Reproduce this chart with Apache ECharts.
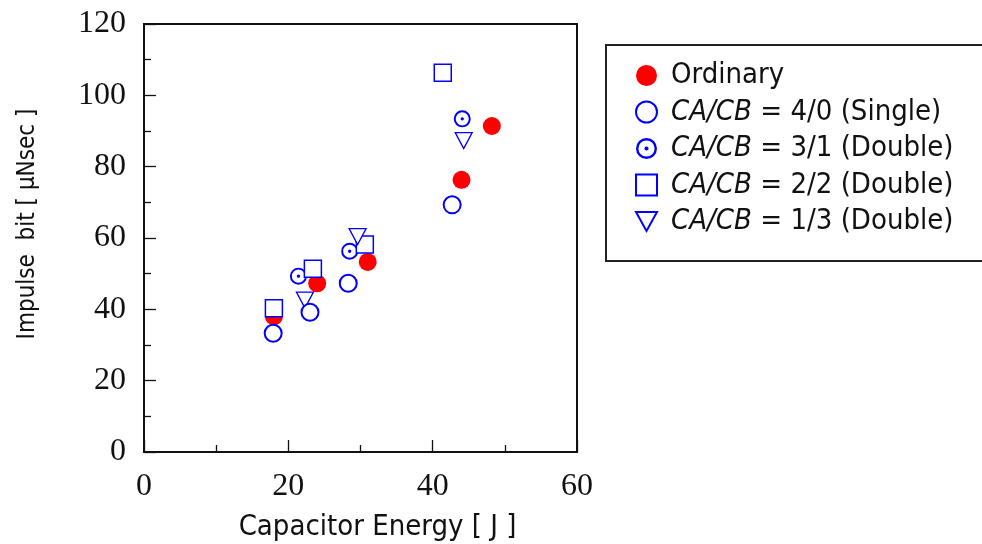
<!DOCTYPE html>
<html>
<head>
<meta charset="utf-8">
<script src="https://cdn.jsdelivr.net/npm/echarts@6/dist/echarts.min.js"></script>
<style>html,body{margin:0;padding:0;background:#fff;}#c{width:982px;height:544px;}</style>
</head>
<body>
<div id="c"></div>
<script>
// Data: [Capacitor Energy (J), Impulse bit (μNsec)]
const ordinary = [[18, 38], [24, 47.3], [31, 53.3], [44, 76.3], [48.2, 91.4]];
const single40 = [[17.9, 33.3], [23, 39.2], [28.3, 47.3], [42.7, 69.3]];
const double31 = [[21.4, 49.3], [28.5, 56.3], [44.1, 93.4]];
const double22 = [[18, 40.3], [23.4, 51.4], [30.6, 58.2], [41.4, 106.3]];
const double13 = [[22.3, 42.6], [29.6, 60.4], [44.3, 87.3]];
const seriesNames = ['Ordinary', 'CA/CB = 4/0 (Single)', 'CA/CB = 3/1 (Double)', 'CA/CB = 2/2 (Double)', 'CA/CB = 1/3 (Double)'];
const xTicks = [0, 20, 40, 60];
const yTicks = [0, 20, 40, 60, 80, 100, 120];

const BLUE = '#0000ff';
const RED = '#ff0000';
const dotCircle = 'path://M0,10A10,10 0 1,1 20,10A10,10 0 1,1 0,10Z M2.3,10A7.7,7.7 0 1,0 17.7,10A7.7,7.7 0 1,0 2.3,10Z M8,10A2,2 0 1,0 12,10A2,2 0 1,0 8,10Z';
const downTri = 'path://M0,0L20,0L10,18Z';
const SANS = 'DejaVu Sans Condensed';

const chart = echarts.init(document.getElementById('c'), null, {renderer: 'canvas'});
const axisLabelFont = {fontFamily: 'Liberation Serif', fontSize: 32, color: '#111'};
const option = {
  animation: false,
  backgroundColor: '#fff',
  grid: {left: 144, top: 24, right: 405, bottom: 92, outerBoundsMode: 'none', containLabel: false,
         show: true, borderColor: '#111', borderWidth: 2, backgroundColor: 'transparent'},
  xAxis: {
    type: 'value', min: xTicks[0], max: xTicks[xTicks.length - 1], interval: 20,
    name: 'Capacitor Energy [ J ]', nameLocation: 'middle', nameGap: 61,
    nameTextStyle: {fontFamily: SANS, fontSize: 29, color: '#111', padding: [0, 0, 0, 34]},
    axisLine: {show: true, lineStyle: {color: '#111', width: 2}},
    axisTick: {show: true, inside: true, length: 12, lineStyle: {color: '#111', width: 1.3}},
    minorTick: {show: true, splitNumber: 2, length: 7, lineStyle: {color: '#111', width: 1.3}},
    splitLine: {show: false},
    axisLabel: Object.assign({margin: 19}, axisLabelFont)
  },
  yAxis: {
    type: 'value', min: yTicks[0], max: yTicks[yTicks.length - 1], interval: 20,
    name: 'Impulse  bit [ μNsec ]', nameLocation: 'middle', nameGap: 104,
    nameTextStyle: {fontFamily: SANS, fontSize: 24, color: '#111', padding: [0, 0, 0, 28]},
    axisLine: {show: true, lineStyle: {color: '#111', width: 2}},
    axisTick: {show: true, inside: true, length: 12, lineStyle: {color: '#111', width: 1.3}},
    minorTick: {show: true, splitNumber: 2, length: 7, lineStyle: {color: '#111', width: 1.3}},
    splitLine: {show: false},
    axisLabel: Object.assign({margin: 18}, axisLabelFont)
  },
  legend: {
    orient: 'vertical', left: 630, top: 56,
    itemWidth: 21, itemHeight: 21, itemGap: 7.5,
    data: seriesNames,
    textStyle: {
      fontFamily: SANS, fontSize: 29, color: '#111', lineHeight: 21, padding: [0, 0, 0, 9],
      rich: {i: {fontFamily: SANS, fontStyle: 'italic', fontSize: 29, color: '#111', lineHeight: 21}}
    },
    formatter: function (n) {
      if (n.indexOf('CA/CB') === 0) return '{i|CA/CB}' + n.slice(5);
      return n;
    }
  },
  graphic: [{
    type: 'rect', left: 605, top: 44, z: -1,
    shape: {width: 400, height: 216},
    style: {fill: '#fff', stroke: '#222', lineWidth: 2}
  }],
  series: [
    {name: seriesNames[0], type: 'scatter', data: ordinary, symbol: 'circle', symbolSize: 18, z: 2,
     itemStyle: {color: RED, opacity: 1}},
    {name: seriesNames[1], type: 'scatter', data: single40, symbol: 'circle', symbolSize: 17, z: 6,
     itemStyle: {color: '#fff', borderColor: BLUE, borderWidth: 2, opacity: 1}},
    {name: seriesNames[2], type: 'scatter', data: double31, symbol: dotCircle, symbolSize: 17, z: 3,
     itemStyle: {color: BLUE, opacity: 1}},
    {name: seriesNames[3], type: 'scatter', data: double22, symbol: 'rect', symbolSize: 17, z: 4,
     itemStyle: {color: '#fff', borderColor: BLUE, borderWidth: 1.5, opacity: 1}},
    {name: seriesNames[4], type: 'scatter', data: double13, symbol: downTri, symbolSize: [17, 16], z: 5,
     itemStyle: {color: '#fff', borderColor: BLUE, borderWidth: 1.3, opacity: 1}}
  ]
};
chart.setOption(option);
</script>
</body>
</html>
